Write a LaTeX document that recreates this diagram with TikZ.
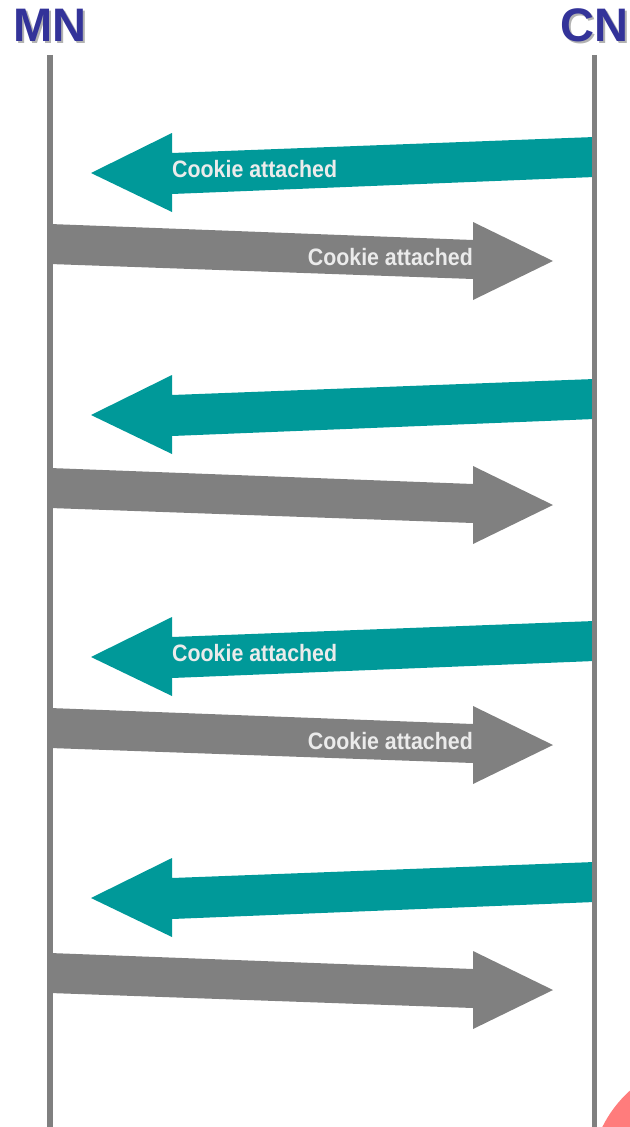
\documentclass[tikz,border=0pt]{standalone}
\usepackage{fontspec}
\setmainfont{Liberation Sans}
\newfontfamily\narrowfont{Liberation Sans}[FakeStretch=0.9]
\usetikzlibrary{positioning, calc}
\definecolor{msgteal}{HTML}{009999}
\definecolor{lifegray}{HTML}{808080}
\definecolor{hostblue}{HTML}{333399}
\definecolor{cornerred}{HTML}{FF7C7C}

\begin{document}
\begin{tikzpicture}[x=0.04cm, y=-0.04cm,
  host/.style={font=\fontsize{53.5}{53.5}\selectfont\bfseries, text=hostblue, inner sep=0pt, anchor=base},
  hostshadow/.style={host, text=black!30},
  lifeline/.style={draw=lifegray, line width=0.224cm},
  cookie/.style={font=\narrowfont\fontsize{27}{27}\selectfont\bfseries, text=black!8, inner sep=0pt}]
  \useasboundingbox (0,0) rectangle (629,1127);

  % corner of the slide decoration
  \fill[cornerred] (710,1180) circle (120);

  % hosts
  \node[hostshadow] at (52,44) {MN};
  \node[hostshadow] at (596.5,44) {CN};
  \node[host] (mn) at (50,42) {MN};
  \node[host] (cn) at (594.5,42) {CN};

  % messages, CN -> MN (teal) and MN -> CN (gray)
  \foreach \t/\g in {137/224, 379/468, 621/708, 862/953} {
    \fill[msgteal] (594.5,\t) -- (594.5,\t+40) -- (172,\t+57) -- (172,\t+75)
      -- (91,\t+36) -- (172,\t-4) -- (172,\t+16) -- cycle;
    \fill[lifegray] (50,\g) -- (473,\g+16) -- (473,\g-2) -- (553,\g+37)
      -- (473,\g+76) -- (473,\g+55) -- (50,\g+40) -- cycle;
  }

  % lifelines
  \coordinate (mn top) at (50,55);
  \coordinate (mn end) at (50,1127);
  \coordinate (cn top) at (594.5,55);
  \coordinate (cn end) at (594.5,1127);
  \draw[lifeline] (mn top) -- (mn end);
  \draw[lifeline] (cn top) -- (cn end);

  % cookie labels
  \node[cookie, anchor=west] (ck1) at (172,169) {Cookie attached};
  \node[cookie, anchor=east] (ck2) at (473,257) {Cookie attached};
  \node[cookie, anchor=west] (ck3) at (172,653) {Cookie attached};
  \node[cookie, anchor=east] (ck4) at (473,741) {Cookie attached};
\end{tikzpicture}
\end{document}
